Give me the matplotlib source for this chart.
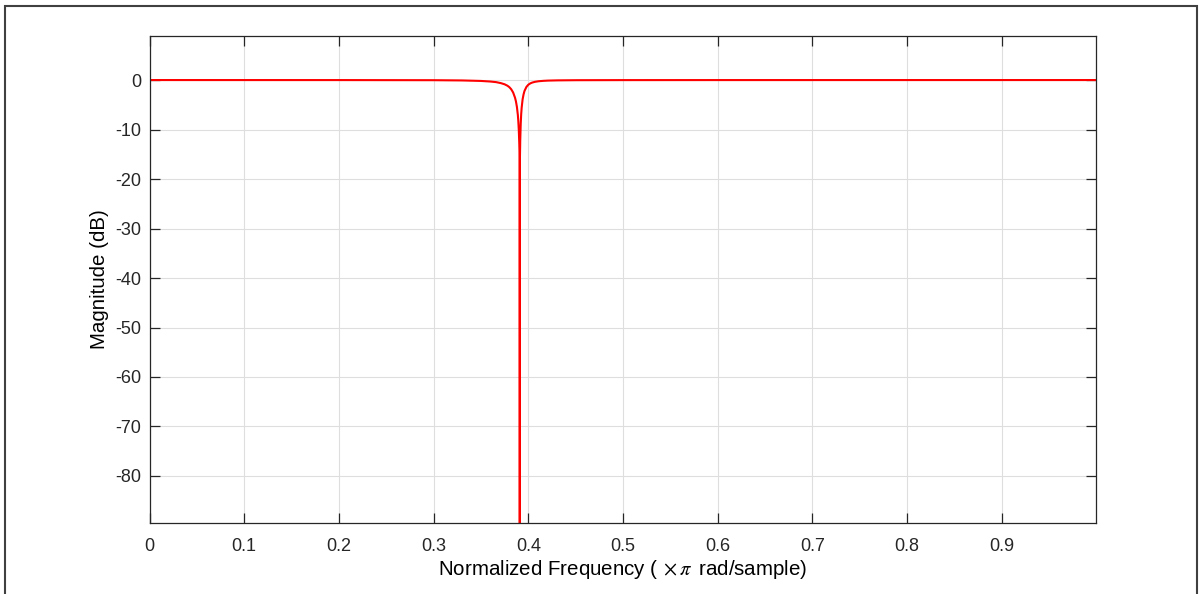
import matplotlib
matplotlib.use("Agg")
import matplotlib.pyplot as plt
from matplotlib.patches import Rectangle

# Values: notch response of a filter (dB vs normalized freq)
freq = [0.0, 0.10, 0.20, 0.30, 0.33, 0.35, 0.36, 0.366, 0.371, 0.375, 0.378,
        0.380, 0.382, 0.384, 0.386, 0.387, 0.388, 0.389, 0.3895, 0.390, 0.3905,
        0.3908, 0.391, 0.3912, 0.3915, 0.392, 0.3925, 0.393, 0.394, 0.395, 0.396,
        0.398, 0.400, 0.402, 0.404, 0.407, 0.411, 0.416, 0.421, 0.431, 0.451,
        0.50, 0.60, 0.70, 0.80, 0.90, 0.999]
mag_db = [0.0, -0.003, -0.006, -0.03, -0.08, -0.18, -0.30, -0.42, -0.62, -0.86, -1.15,
          -1.44, -1.87, -2.52, -3.57, -4.35, -5.45, -7.1, -8.4, -10.2, -12.9,
          -15.5, -95.0, -15.5, -12.2, -8.9, -6.9, -5.6, -3.9, -2.9, -2.2,
          -1.4, -0.95, -0.69, -0.52, -0.36, -0.24, -0.16, -0.11, -0.065, -0.03,
          -0.012, -0.005, -0.003, -0.002, -0.001, 0.0]

x_ticks = [0, 0.1, 0.2, 0.3, 0.4, 0.5, 0.6, 0.7, 0.8, 0.9]
x_tick_labels = ["0", "0.1", "0.2", "0.3", "0.4", "0.5", "0.6", "0.7", "0.8", "0.9"]
y_ticks = [-80, -70, -60, -50, -40, -30, -20, -10, 0]
y_tick_labels = ["-80", "-70", "-60", "-50", "-40", "-30", "-20", "-10", "0"]

plt.rcParams["font.family"] = ["Liberation Sans", "DejaVu Sans"]
plt.rcParams["mathtext.fontset"] = "stix"
plt.rcParams["axes.unicode_minus"] = False

W, H = 1200, 594
fig = plt.figure(figsize=(W / 100, H / 100), dpi=100)
fig.patch.set_facecolor("white")

ax = fig.add_axes([149.5 / W, 1 - 523 / H, (1096 - 149.5) / W, (523 - 36) / H])
ax.plot(freq, mag_db, color="#ff0000", linewidth=1.5, solid_joinstyle="round")
ax.set_xlim(0, 0.9995)
ax.set_ylim(-89.5, 8.9)

ax.set_xticks(x_ticks)
ax.set_xticklabels(x_tick_labels)
ax.set_yticks(y_ticks)
ax.set_yticklabels(y_tick_labels)

dark = "#262626"
for s in ax.spines.values():
    s.set_color(dark)
    s.set_linewidth(0.9)
ax.tick_params(axis="both", which="major", direction="in", length=7, width=0.9,
               color=dark, labelcolor=dark, labelsize=13,
               top=True, right=True)
ax.tick_params(axis="x", pad=10.5)
ax.tick_params(axis="y", pad=6)
ax.grid(True, color="#dedede", linewidth=0.8)
ax.set_axisbelow(True)

ax.set_xlabel(r"Normalized Frequency ($\;\times\pi\,$ rad/sample)", fontsize=14.8,
              color="black", labelpad=2.5)
ax.set_ylabel("Magnitude (dB)", fontsize=14.8, color="black", labelpad=4)

# outer frame
fig.patches.append(Rectangle((4.5 / W, -0.05), (1196.5 - 4.5) / W, 1.05 - 5.5 / H,
                             transform=fig.transFigure, fill=False,
                             edgecolor="#404040", linewidth=1.5, clip_on=False))

fig.savefig("out.png", dpi=100, facecolor="white")
